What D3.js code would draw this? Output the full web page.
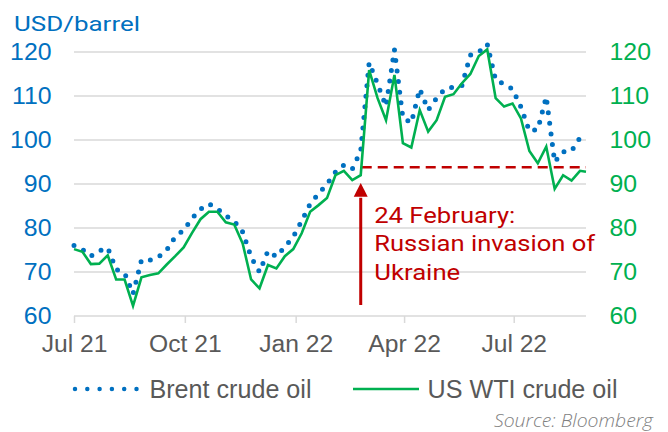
<!DOCTYPE html>
<html>
<head>
<meta charset="utf-8">
<script src="https://cdn.jsdelivr.net/npm/d3@7"></script>
<style>
  body { margin: 0; background: #fff; }
  svg { display: block; }
</style>
</head>
<body>
<script>
// weekly readings, first week starts 1 Jul 2021
const weekStart = new Date(2021, 6, 1);
const lastDay = new Date(2022, 7, 30);

const brent = [
  76.0, 75.1, 73.6, 74.8, 75.5, 70.6, 69.8, 65.0, 72.7, 72.7,
  73.4, 75.0, 78.0, 79.5, 82.2, 84.3, 85.5, 84.4, 82.8, 81.6,
  79.1, 73.4, 70.0, 74.8, 73.5, 75.7, 78.0, 81.6, 85.5, 87.8,
  90.0, 92.7, 94.3, 93.4, 97.5, 117.6, 112.7, 107.7, 120.5, 105.0,
  103.9, 111.6, 106.8, 109.5, 111.6, 112.0, 112.4, 119.3, 120.0, 121.8,
  113.6, 112.7, 111.6, 107.5, 102.0, 102.4, 109.8, 95.0, 97.3, 97.5,
  100.5
];

const wti = [
  75.2, 74.6, 71.8, 71.9, 73.8, 68.3, 68.3, 62.3, 68.8, 69.3,
  69.7, 71.7, 73.6, 75.6, 78.9, 82.0, 83.7, 83.7, 81.3, 80.8,
  76.5, 68.3, 66.3, 71.6, 70.8, 73.6, 75.2, 78.8, 83.7, 85.2,
  86.8, 92.0, 93.0, 90.9, 92.0, 115.9, 109.5, 104.5, 114.8, 99.3,
  98.3, 106.8, 101.9, 104.5, 109.8, 110.4, 112.9, 115.0, 119.1, 120.6,
  109.5, 107.6, 108.3, 104.9, 97.5, 94.7, 98.5, 88.9, 92.0, 90.8,
  93.0, 92.8
];

const xTickDates = [new Date(2021, 6, 1), new Date(2021, 9, 1), new Date(2022, 0, 1), new Date(2022, 3, 1), new Date(2022, 6, 1)];
const yTicks = [60, 70, 80, 90, 100, 110, 120];

const invasionDate = new Date(2022, 1, 24);
const preInvasionLevel = 93.8;
const arrowBase = 62.5, arrowTip = 90.2, arrowHeadBase = 87.1;
const noteLines = ['24 February:', 'Russian invasion of', 'Ukraine'];
const noteWidths = [141, 221, 86];

const legendItems = ['Brent crude oil', 'US WTI crude oil'];

const blue = '#0070C0', green = '#00B050', red = '#C00000', grid = '#D9D9D9', grey = '#595959';

let width = 668, height = 432;
let svg = d3.select('body').append('svg')
  .attr('width', width)
  .attr('height', height);

let x = d3.scaleTime()
  .domain([weekStart, lastDay])
  .range([74, 586]);
let y = d3.scaleLinear()
  .domain([60, 120])
  .range([316, 52]);

let brentData = brent.map((v, i) => ({ date: d3.timeDay.offset(weekStart, 7 * i), value: v }));
let wtiData = wti.map((v, i) => ({ date: i < 61 ? d3.timeDay.offset(weekStart, 7 * i) : lastDay, value: v }));

// horizontal gridlines
svg.append('g')
  .selectAll('line')
  .data(yTicks)
  .enter().append('line')
  .attr('x1', x.range()[0])
  .attr('x2', x.range()[1])
  .attr('y1', d => y(d))
  .attr('y2', d => y(d))
  .attr('stroke', grid)
  .attr('stroke-width', 1.5);

// stretch tick text a little, the reference font is wider
function widen(sel, k) {
  sel.each(function() {
    let w = this.getComputedTextLength();
    d3.select(this).attr('textLength', w * k).attr('lengthAdjust', 'spacingAndGlyphs');
  });
}

// bottom axis
let xAxis = svg.append('g')
  .attr('transform', 'translate(0,' + y(60) + ')')
  .call(d3.axisBottom(x).tickValues(xTickDates).tickFormat(d3.timeFormat('%b %y')).tickSize(7).tickSizeOuter(0));
xAxis.select('.domain').remove();
xAxis.selectAll('line').attr('stroke', grid).attr('stroke-width', 1.5);
xAxis.selectAll('text')
  .attr('dy', null)
  .attr('y', 35.5)
  .attr('fill', grey)
  .style('font-family', 'Liberation Sans, Arial, sans-serif')
  .style('font-size', '23px')
  .call(widen, 1.07);

// left axis
let yLeft = svg.append('g')
  .attr('transform', 'translate(' + x.range()[0] + ',0)')
  .call(d3.axisLeft(y).tickValues(yTicks).tickSize(0).tickPadding(22.5));
yLeft.select('.domain').remove();
yLeft.selectAll('text')
  .attr('fill', blue)
  .style('font-family', 'Liberation Sans, Arial, sans-serif')
  .style('font-size', '23px')
  .call(widen, 1.08);

// right axis
let yRight = svg.append('g')
  .attr('transform', 'translate(' + x.range()[1] + ',0)')
  .call(d3.axisRight(y).tickValues(yTicks).tickSize(0).tickPadding(23.5));
yRight.select('.domain').remove();
yRight.selectAll('text')
  .attr('fill', green)
  .style('font-family', 'Liberation Sans, Arial, sans-serif')
  .style('font-size', '23px')
  .call(widen, 1.08);

// unit label
svg.append('text')
  .attr('x', 14)
  .attr('y', 30.5)
  .attr('fill', blue)
  .style('font-family', 'Roboto, Noto Sans, sans-serif')
  .style('font-size', '21px')
  .attr('textLength', 126)
  .attr('lengthAdjust', 'spacingAndGlyphs')
  .text('USD/barrel');

// level before the invasion
svg.append('line')
  .attr('x1', x(invasionDate) + 1)
  .attr('x2', x.range()[1])
  .attr('y1', y(preInvasionLevel))
  .attr('y2', y(preInvasionLevel))
  .attr('stroke', red)
  .attr('stroke-width', 2.5)
  .attr('stroke-dasharray', '10 6');

let line = d3.line()
  .x(d => x(d.date))
  .y(d => y(d.value));

svg.append('path')
  .datum(brentData)
  .attr('d', line)
  .attr('fill', 'none')
  .attr('stroke', blue)
  .attr('stroke-width', 5)
  .attr('stroke-linecap', 'round')
  .attr('stroke-dasharray', '0 10.6');

svg.append('path')
  .datum(wtiData)
  .attr('d', line)
  .attr('fill', 'none')
  .attr('stroke', green)
  .attr('stroke-width', 2.6)
  .attr('stroke-linejoin', 'miter');

// arrow at invasion date
let ax = x(invasionDate);
svg.append('line')
  .attr('x1', ax)
  .attr('x2', ax)
  .attr('y1', y(arrowBase))
  .attr('y2', y(arrowHeadBase) + 1)
  .attr('stroke', red)
  .attr('stroke-width', 3);
svg.append('path')
  .attr('d', 'M' + (ax - 7) + ',' + y(arrowHeadBase) + 'L' + ax + ',' + y(arrowTip) + 'L' + (ax + 7) + ',' + y(arrowHeadBase) + 'Z')
  .attr('fill', red);

svg.append('g')
  .selectAll('text')
  .data(noteLines)
  .enter().append('text')
  .attr('x', ax + 13.5)
  .attr('y', (d, i) => 222.5 + i * 28.8)
  .attr('fill', red)
  .style('font-family', 'Roboto, Noto Sans, sans-serif')
  .style('font-size', '22px')
  .attr('textLength', (d, i) => noteWidths[i])
  .attr('lengthAdjust', 'spacingAndGlyphs')
  .text(d => d);

// legend
let legend = svg.append('g')
  .style('font-family', 'Liberation Sans, Arial, sans-serif')
  .style('font-size', '25px')
  .attr('fill', grey);

legend.append('line')
  .attr('x1', 75).attr('x2', 137)
  .attr('y1', 389).attr('y2', 389)
  .attr('stroke', blue)
  .attr('stroke-width', 4.5)
  .attr('stroke-linecap', 'round')
  .attr('stroke-dasharray', '0 12.3');
legend.append('text')
  .attr('x', 149.5)
  .attr('y', 397.5)
  .attr('textLength', 162)
  .attr('lengthAdjust', 'spacingAndGlyphs')
  .text(legendItems[0]);

legend.append('line')
  .attr('x1', 353).attr('x2', 419)
  .attr('y1', 389).attr('y2', 389)
  .attr('stroke', green)
  .attr('stroke-width', 2.6);
legend.append('text')
  .attr('x', 427.5)
  .attr('y', 397.5)
  .attr('textLength', 190)
  .attr('lengthAdjust', 'spacingAndGlyphs')
  .text(legendItems[1]);

svg.append('text')
  .attr('x', 494)
  .attr('y', 427)
  .attr('fill', '#7F7F7F')
  .style('font-family', 'Open Sans, Noto Sans, sans-serif')
  .style('font-style', 'italic')
  .style('font-weight', 300)
  .style('font-size', '19px')
  .attr('textLength', 159)
  .attr('lengthAdjust', 'spacingAndGlyphs')
  .text('Source: Bloomberg');
</script>
</body>
</html>
